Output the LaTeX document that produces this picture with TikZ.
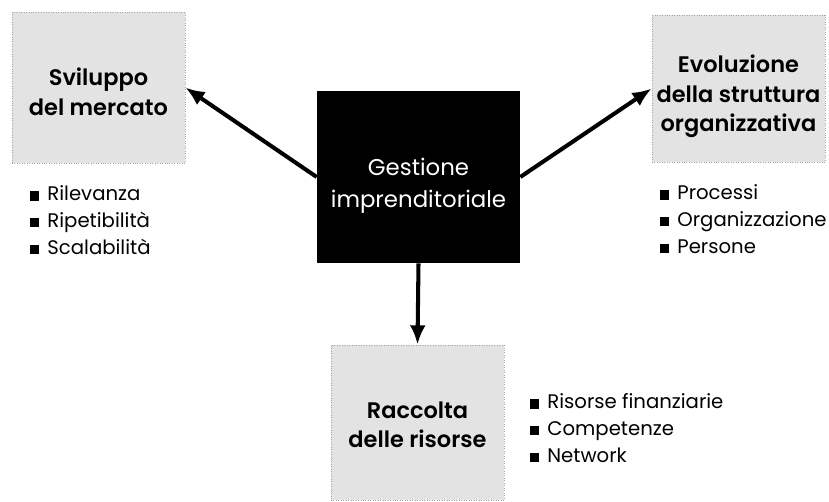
\documentclass[tikz,border=0pt]{standalone}
\usepackage{fontspec}
\setmainfont{Poppins}
\newfontfamily\boxfont{Poppins SemiBold}
\usetikzlibrary{arrows.meta,positioning}

\newcommand{\sqb}{\rule{5.2pt}{5.2pt}\hspace{4.5pt}}
% centred lines, drawn a little lower than the box centre
\newcommand{\boxlines}[2]{\raisebox{#1}[\height][\depth]{%
  \begin{tabular}{@{}c@{}}#2\end{tabular}}}

\begin{document}
\begin{tikzpicture}[x=0.02cm, y=-0.02cm,
  greybox/.style={draw=gray!70, densely dotted, fill=gray!22, inner sep=0pt,
    minimum width=3.46cm,
    font=\fontsize{12.8}{16.8}\boxfont},
  itemlist/.style={align=left, anchor=west, inner sep=0pt,
    font=\fontsize{11.2}{15.3}\selectfont},
  flow/.style={-{Latex[length=11pt,width=9pt]}, line width=2.3pt, black}]

\useasboundingbox (0,0) rectangle (829,502);

% ================= CENTRE =================
\node[fill=black, text=white, inner sep=0pt,
  minimum width=4.06cm, minimum height=3.44cm,
  font=\fontsize{13}{18}\selectfont] (core) at (418.5,177)
  {\boxlines{-4.5pt}{Gestione\\imprenditoriale}};

% ================= GREY BOXES =================
\node[greybox, minimum height=3.02cm] (market) at (98.5,87.5)
  {\boxlines{-4pt}{Sviluppo\\del mercato}};
\node[greybox, minimum height=2.94cm] (orga) at (738.5,88.5)
  {\boxlines{-4.5pt}{Evoluzione\\della struttura\\organizzativa}};
\node[greybox, minimum height=3.10cm] (funds) at (417.5,422.5)
  {\boxlines{-2.5pt}{Raccolta\\delle risorse}};

% ================= ARROWS =================
\draw[flow] (core.west) -- (market.east);
\draw[flow] (core.east) -- (orga.west);
\draw[flow] (core.south) -- (funds.north);

% ================= LISTS =================
\node[itemlist] (marketlist) at (30,220)
  {\sqb Rilevanza\\\sqb Ripetibilità\\\sqb Scalabilità};
\node[itemlist] (orgalist) at (660,219)
  {\sqb Processi\\\sqb Organizzazione\\\sqb Persone};
\node[itemlist] (fundslist) at (530,428)
  {\sqb Risorse finanziarie\\\sqb Competenze\\\sqb Network};

\end{tikzpicture}
\end{document}
